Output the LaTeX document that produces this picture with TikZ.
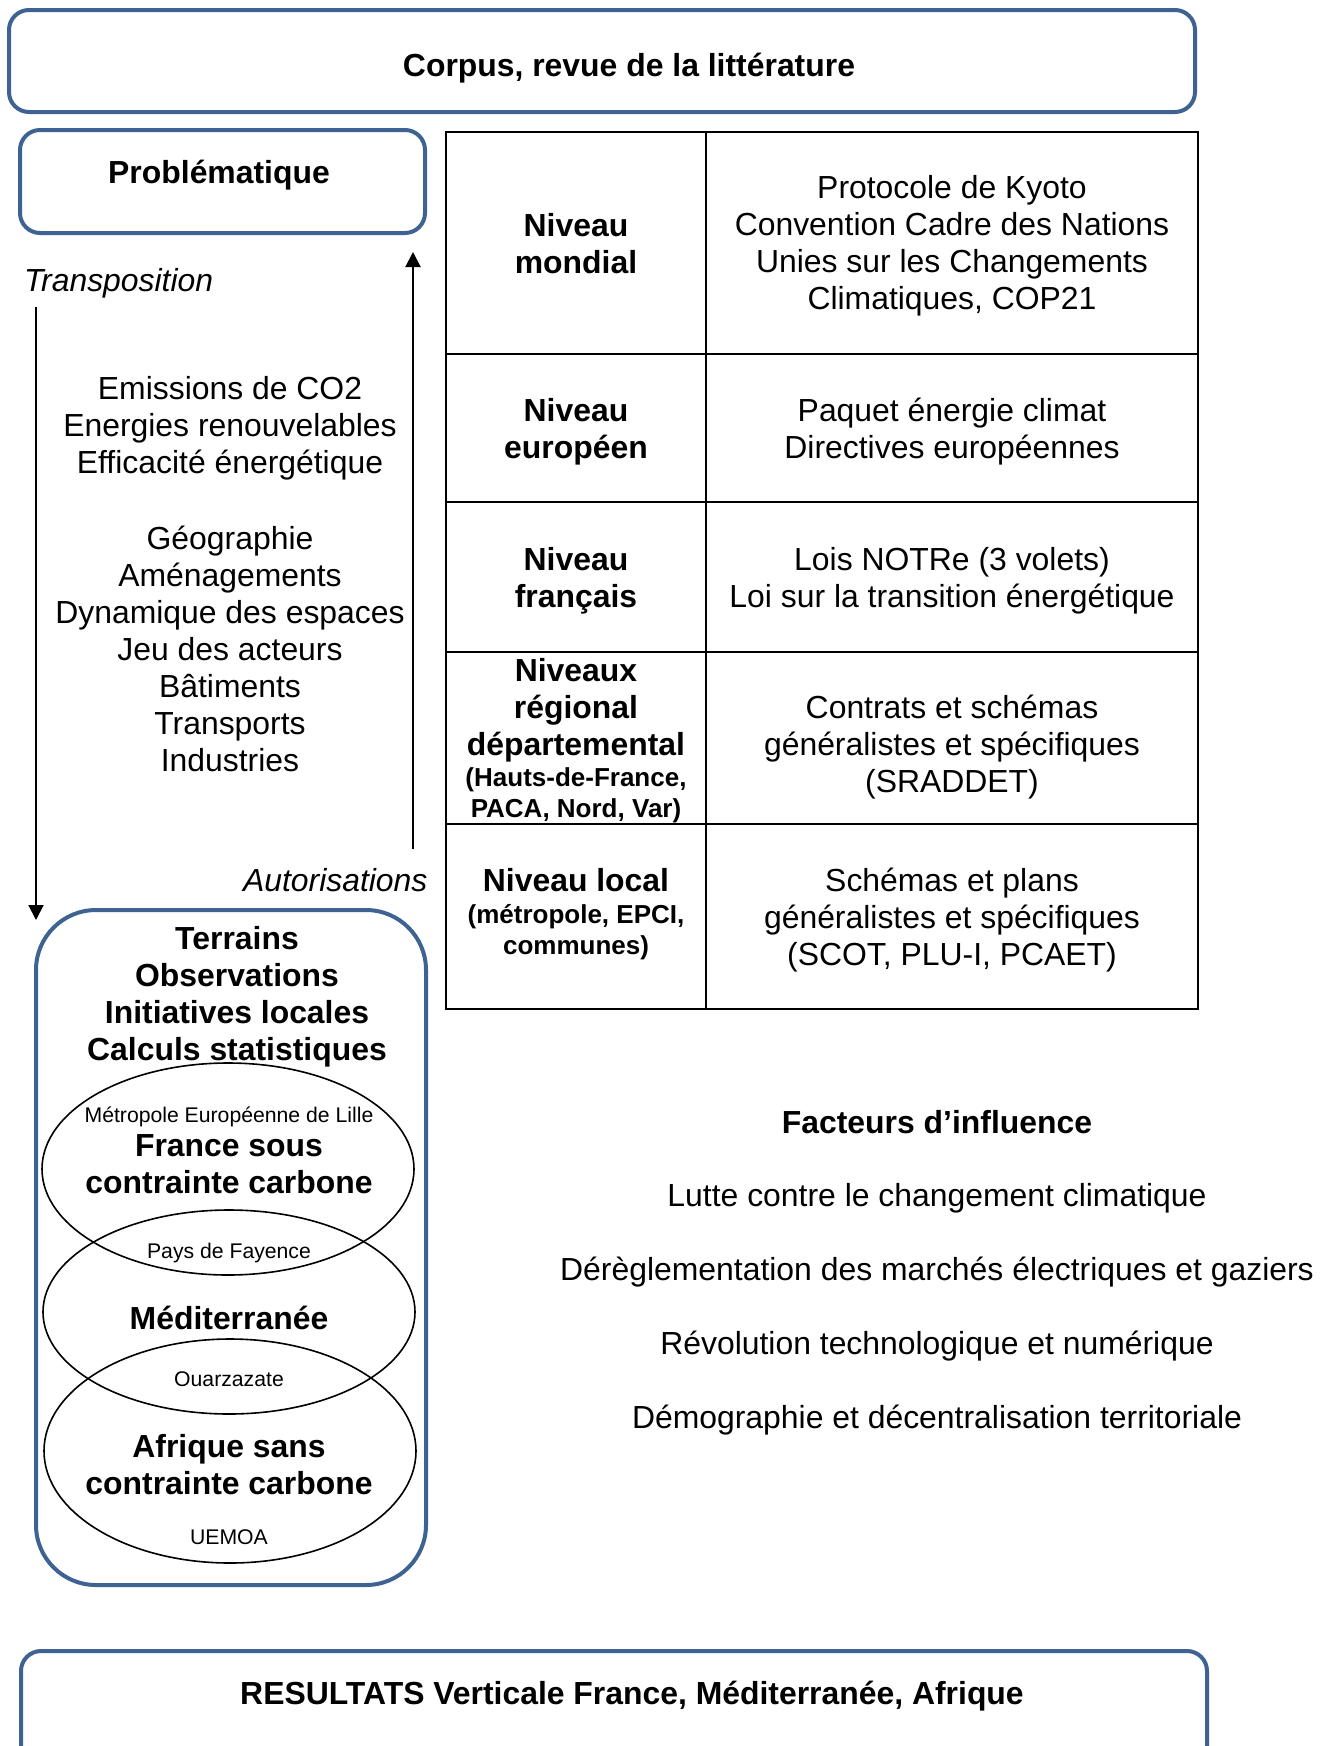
\documentclass[tikz,border=0pt]{standalone}
\usepackage{fontspec}
\setmainfont{Liberation Sans}
\usetikzlibrary{shapes.geometric,arrows.meta,positioning}
\definecolor{boxblue}{RGB}{62,99,146}

\begin{document}
\begin{tikzpicture}[x=0.5pt,y=-0.5pt,
  bluebox/.style={draw=boxblue,line width=2pt,rounded corners=10pt,inner sep=0pt},
  bigb/.style={font=\fontsize{15.95}{18.5}\selectfont\bfseries,align=center,yshift=-1.75pt},
  txt/.style={font=\fontsize{15.95}{18.5}\selectfont,align=center,yshift=-1.75pt},
  item/.style={font=\fontsize{15.95}{18.5}\selectfont},
  smallb/.style={font=\fontsize{13}{15.5}\selectfont\bfseries,align=center,yshift=-1.5pt},
  tiny/.style={font=\fontsize{10.6}{12.5}\selectfont},
  zone/.style={draw,ellipse,line width=0.8pt,minimum width=186pt,inner sep=0pt},
  fleche/.style={-{Triangle[width=7.5pt,length=7.5pt]},line width=1pt},
  node distance=36.85pt]
\useasboundingbox (0,0) rectangle (1331,1746);
\clip (0,0) rectangle (1331,1746);
% cadres
\node (corpus) [bluebox,minimum width=593pt,minimum height=51pt] at (602,61) {};
\node (corpus-txt) [bigb] at (629,65) {Corpus, revue de la littérature};
\node (probleme) [bluebox,minimum width=202.5pt,minimum height=51.5pt] at (222.5,181.5) {};
\node (probleme-txt) [bigb] at (219,172) {Problématique};
\node (terrains) [bluebox,rounded corners=30pt,minimum width=195pt,minimum height=337.5pt] at (231,1247.5) {};
\node (terrains-txt) [bigb] at (237,993) {Terrains\\Observations\\Initiatives locales\\Calculs statistiques};
\node (resultats) [bluebox,minimum width=593pt,minimum height=72pt] at (614,1723) {};
\node (resultats-txt) [bigb] at (632,1693) {RESULTATS Verticale France, Méditerranée, Afrique};

\node (transpo) [txt,font=\fontsize{15.95}{18.5}\selectfont\itshape,anchor=west] at (17,280) {Transposition};
\node (autoris) [txt,font=\fontsize{15.95}{18.5}\selectfont\itshape,anchor=east] at (434.5,877) {Autorisations};
\coordinate (transpo-haut) at (36,307);
\coordinate (transpo-bas) at (36,920);
\coordinate (autoris-bas) at (413,849);
\coordinate (autoris-haut) at (413,252);
\draw[fleche] (transpo-haut) -- (transpo-bas);
\draw[fleche] (autoris-bas) -- (autoris-haut);

\node (energie) [txt] at (230,425) {Emissions de CO2\\Energies renouvelables\\Efficacité énergétique};
\node (espace) [txt] at (230,645) {Géographie\\Aménagements\\Dynamique des espaces\\Jeu des acteurs\\Bâtiments\\Transports\\Industries};

% zones
\node (france) [zone,minimum height=106pt] at (228,1169) {};
\node (medit) [zone,minimum height=102pt] at (229,1312) {};
\node (afrique) [zone,minimum height=112pt] at (230,1451) {};
\node (lille) [tiny] at (229,1117) {Métropole Européenne de Lille};
\node (france-txt) [bigb] at (229,1161) {France sous\\contrainte carbone};
\node (fayence) [tiny] at (229,1253) {Pays de Fayence};
\node (medit-txt) [bigb] at (229,1314) {Méditerranée};
\node (ouarza) [tiny] at (229,1379) {Ouarzazate};
\node (afrique-txt) [bigb] at (229,1461) {Afrique sans\\contrainte carbone};
\node (uemoa) [tiny] at (229,1537) {UEMOA};

% tableau
\draw[line width=1pt] (446,132) rectangle (1198,1009);
\draw[line width=1pt] (706,132) -- (706,1009);
\foreach \y in {354,502,652,824}
  \draw[line width=1pt] (446,\y) -- (1198,\y);
\node (niv-mondial) [bigb] at (576,240) {Niveau\\mondial};
\node (txt-mondial) [txt] at (952,242) {Protocole de Kyoto\\Convention Cadre des Nations\\Unies sur les Changements\\Climatiques, COP21};
\node (niv-europe) [bigb] at (576,428) {Niveau\\européen};
\node (txt-europe) [txt] at (952,428) {Paquet énergie climat\\Directives européennes};
\node (niv-france) [bigb] at (576,577) {Niveau\\français};
\node (txt-france) [txt] at (952,577) {Lois NOTRe (3 volets)\\Loi sur la transition énergétique};
\node (niv-region) [bigb] at (576,707) {Niveaux\\régional\\départemental};
\node (niv-region1) [smallb] at (576,792) {(Hauts-de-France,\\PACA, Nord, Var)};
\node (txt-region) [txt] at (952,744) {Contrats et schémas\\généralistes et spécifiques\\(SRADDET)};
\node (niv-local) [bigb] at (576,877) {Niveau local};
\node (niv-local1) [smallb] at (576,929) {(métropole, EPCI,\\communes)};
\node (txt-local) [txt] at (952,917) {Schémas et plans\\généralistes et spécifiques\\(SCOT, PLU-I, PCAET)};

% facteurs
\node (facteurs) [bigb,yshift=1.75pt] at (937,1122) {Facteurs d’influence};
\node (climat) [item] [below of=facteurs,node distance=38.3pt] {Lutte contre le changement climatique};
\node (marches) [item] [below of=climat] {Dérèglementation des marchés électriques et gaziers};
\node (techno) [item] [below of=marches] {Révolution technologique et numérique};
\node (demo) [item] [below of=techno] {Démographie et décentralisation territoriale};
\end{tikzpicture}
\end{document}
